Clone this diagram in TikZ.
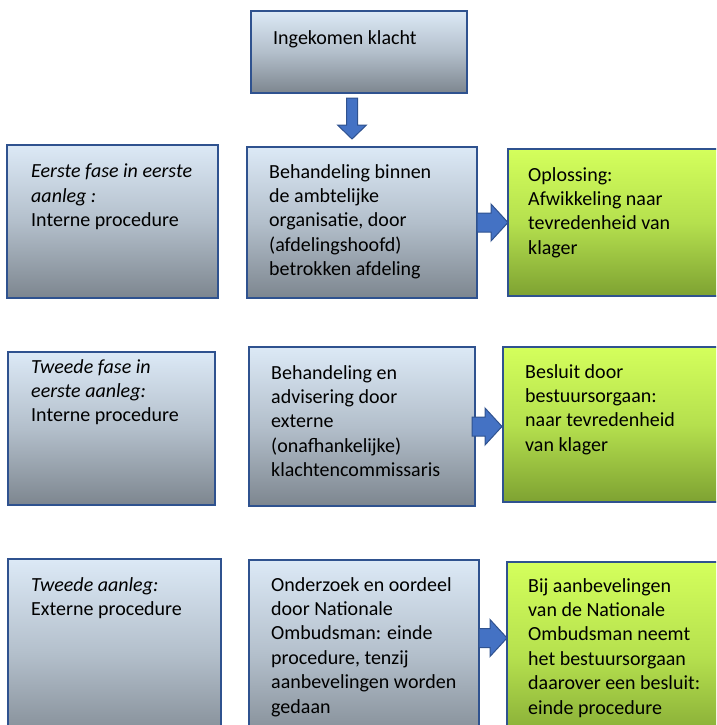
\documentclass[tikz,border=0pt]{standalone}
\usepackage{fontspec}
\setmainfont{Carlito}
\usepackage{tikz}
\usetikzlibrary{calc}
\definecolor{edge}{HTML}{2F528F}
\definecolor{greytop}{HTML}{DCE9F6}
\definecolor{greymid}{HTML}{B3BFCB}
\definecolor{greybot}{HTML}{7D868F}
\definecolor{limetop}{HTML}{D4FF5C}
\definecolor{limemid}{HTML}{B5E04E}
\definecolor{limebot}{HTML}{7EA232}
\definecolor{arrowfill}{HTML}{4472C4}
\tikzset{
  box/.style={draw=edge, line width=2.4pt, anchor=north west, inner sep=0pt, outer sep=0pt},
  greybox/.style={box, top color=greytop, bottom color=greybot, middle color=greymid},
  limebox/.style={box, top color=limetop, bottom color=limebot, middle color=limemid},
  txt/.style={anchor=north west, inner sep=0pt, align=left,
    font=\fontsize{20}{24.4}\selectfont, execute at begin node=\strut},
  blk/.style={draw=edge, fill=arrowfill, line width=1pt, line join=miter},
  rblk/.style={blk, to path={let \p1=(\tikztostart), \p2=(\tikztotarget) in
    (\x1,\y1+9.5pt) -- (\x2-17pt,\y1+9.5pt) -- (\x2-17pt,\y1+18.5pt) -- (\x2,\y1)
    -- (\x2-17pt,\y1-18.5pt) -- (\x2-17pt,\y1-9.5pt) -- (\x1,\y1-9.5pt) -- cycle}},
  dblk/.style={blk, to path={let \p1=(\tikztostart), \p2=(\tikztotarget) in
    (\x1-5.5pt,\y1-5pt) -- (\x1-5.5pt,\y2+22pt) -- (\x1-14.5pt,\y2+22pt) -- (\x1,\y2+8pt)
    -- (\x1+14.5pt,\y2+22pt) -- (\x1+5.5pt,\y2+22pt) -- (\x1+5.5pt,\y1-5pt) -- cycle}}
}
\begin{document}
\begin{tikzpicture}[x=1pt, y=-1pt]
\useasboundingbox (0,0) rectangle (716,725);
\clip (0,0) rectangle (716,725);

% incoming complaint
\node[greybox, minimum width=216pt, minimum height=82pt] (top) at (251,11) {};
\node[txt] (t0) at ($(top.north west)+(22,16)$) {Ingekomen klacht};

% first row
\node[greybox, minimum width=211pt, minimum height=153pt] (l1) at (7,145) {};
\node[greybox, minimum width=230pt, minimum height=151pt] (m1) at (247,147) {};
\node[limebox, minimum width=230pt, minimum height=147pt] (g1) at (508,149) {};
\node[txt] (tl1) at ($(l1.north west)+(24,19)$) {\textit{Eerste fase in eerste}\\\textit{aanleg :}\\Interne procedure};
\node[txt] (tm1) at ($(m1.north west)+(22,17)$) {Behandeling binnen\\de ambtelijke\\organisatie, door\\(afdelingshoofd)\\betrokken afdeling};
\node[txt] (tg1) at ($(g1.north west)+(20,18)$) {Oplossing:\\Afwikkeling naar\\tevredenheid van\\klager};

% second row
\node[greybox, minimum width=207pt, minimum height=153pt] (l2) at (8,352) {};
\node[greybox, minimum width=226pt, minimum height=159pt] (m2) at (249,347) {};
\node[limebox, minimum width=230pt, minimum height=155pt] (g2) at (503,347) {};
\node[txt] (tl2) at ($(l2.north west)+(23,7)$) {\textit{Tweede fase in}\\\textit{eerste aanleg:}\\Interne procedure};
\node[txt] (tm2) at ($(m2.north west)+(22,18)$) {Behandeling en\\advisering door\\externe\\(onafhankelijke)\\klachtencommissaris};
\node[txt] (tg2) at ($(g2.north west)+(22,17)$) {Besluit door\\bestuursorgaan:\\naar tevredenheid\\van klager};

% third row, runs off the page
\node[greybox, minimum width=213pt, minimum height=190pt] (l3) at (8,559) {};
\node[greybox, minimum width=230pt, minimum height=190pt] (m3) at (249,560) {};
\node[limebox, minimum width=230pt, minimum height=190pt] (g3) at (507,562) {};
\node[txt] (tl3) at ($(l3.north west)+(23,18)$) {\textit{Tweede aanleg:}\\Externe procedure};
\node[txt] (tm3) at ($(m3.north west)+(22,17)$) {Onderzoek en oordeel\\door Nationale\\Ombudsman: einde\\procedure, tenzij\\aanbevelingen worden\\gedaan};
\node[txt] (tg3) at ($(g3.north west)+(21,16)$) {Bij aanbevelingen\\van de Nationale\\Ombudsman neemt\\het bestuursorgaan\\daarover een besluit:\\einde procedure};

% block arrows
\draw[dblk] ([xshift=-7pt]top.south) to (m1.north);
\draw[rblk] (m1.east) to (g1.west);
\draw[rblk] ([xshift=-3pt]m2.east) to ([xshift=-1pt]g2.west);
\draw[rblk] ([yshift=17pt]m3.east) to (g3.west);
\end{tikzpicture}
\end{document}
